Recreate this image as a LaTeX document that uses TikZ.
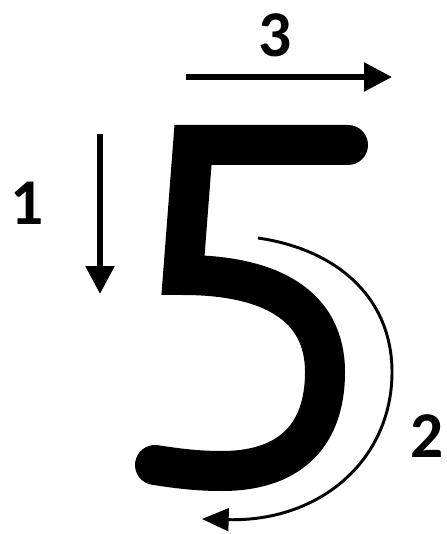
\documentclass[tikz,border=0pt]{standalone}
\usepackage{fontspec}
\setmainfont{Carlito}
\usetikzlibrary{arrows.meta}
\tikzset{
  digit/.style={inner sep=0pt, font=\fontsize{49}{49}\selectfont\bfseries, text=black},
  strokearrow/.style={line width=4.2pt, -{Triangle[length=21pt,width=21pt]}},
  thinarrow/.style={line width=2.2pt, -{Triangle[length=20pt,width=17pt]}},
  fivestroke/.style={line width=30pt, line cap=round, line join=miter}
}
\begin{document}
\begin{tikzpicture}[x=0.75pt,y=-0.75pt]
\useasboundingbox (0,0) rectangle (446,534);
% labels
\node[digit] (l1) at (27,203) {1};
\node[digit] (l3) at (275,35) {3};
\node[digit] (l2) at (427,436) {2};
% arrow endpoints
\coordinate (a1s) at (100,134);
\coordinate (a1e) at (100,294);
\coordinate (a3s) at (186,77);
\coordinate (a3e) at (392,77);
\coordinate (a2s) at (258,238);
\coordinate (a2e) at (202,519);
\draw[strokearrow] (a1s) -- (a1e);
\draw[strokearrow] (a3s) -- (a3e);
\draw[thinarrow] (a2s) .. controls (340,250) and (392,300) .. (392,372)
  .. controls (392,460) and (320,522) .. (a2e);
% the digit 5
\draw[fivestroke] (348,145) -- (193,145) -- (183,275)
  .. controls (270,275) and (325,305) .. (325,372)
  .. controls (325,440) and (285,471) .. (222,471)
  .. controls (195,471) and (175,468) .. (155,465);
\end{tikzpicture}
\end{document}
